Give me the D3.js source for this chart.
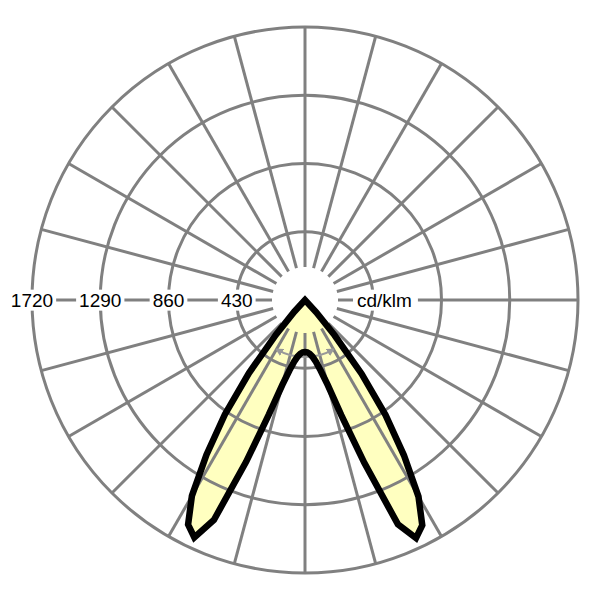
<!DOCTYPE html>
<html>
<head>
<meta charset="utf-8">
<script src="https://cdn.jsdelivr.net/npm/d3@7"></script>
<style>
  body { margin: 0; background: #fff; }
  .grid { fill: none; stroke: #808080; stroke-width: 3; }
  .lbl { font-family: "Liberation Sans", Arial, sans-serif; font-size: 19px; fill: #000; }
</style>
</head>
<body>
<svg id="chart" width="600" height="600"></svg>
<script>
// gamma angles (deg from nadir) and intensities for the two half planes
const gammaAngles = [0, 2.5, 5, 7.5, 10, 12.5, 15, 17.5, 20, 22.5, 25, 27.5, 30, 32.5, 35, 37.5, 40, 42.5, 45, 90, 180];
const intensityRight = [328, 330, 340, 360, 395, 455, 555, 760, 1090, 1530, 1655, 1600, 1430, 1160, 885, 585, 290, 105, 0, 0, 0];
const intensityLeft  = [328, 330, 340, 360, 395, 455, 555, 756, 1085, 1500, 1650, 1595, 1425, 1155, 880, 580, 285, 100, 0, 0, 0];
const ringValues = [430, 860, 1290, 1720];
const ringLabels = ["1720", "1290", "860", "430"];
const spokeAngles = d3.range(0, 360, 15);
const unitLabel = "cd/klm";
const beamAngle = [-30, 30];

const cx = 305, cy = 300;
const svg = d3.select("#chart");
const g = svg.append("g").attr("transform", `translate(${cx},${cy})`);

let r = d3.scaleLinear().domain([0, 1720]).range([0, 273]);
const innerGap = 33;

// build closed outline: left half plane first (180 -> 0), then right (0 -> 180)
let pts = [];
for (let i = gammaAngles.length - 1; i >= 0; i--) {
    pts.push([Math.PI + gammaAngles[i] * Math.PI / 180, r(intensityLeft[i])]);
}
for (let i = 1; i < gammaAngles.length; i++) {
    pts.push([Math.PI - gammaAngles[i] * Math.PI / 180, r(intensityRight[i])]);
}
let radial = d3.lineRadial().curve(d3.curveLinearClosed);

// light fill underneath the grid
g.append("path")
    .attr("d", radial(pts))
    .attr("fill", "#ffffc0")
    .attr("stroke", "none");

// rings
g.selectAll("circle.ring")
    .data(ringValues)
    .enter()
    .append("circle")
    .attr("class", "grid ring")
    .attr("r", d => r(d));

// spokes, all leave a gap around the centre
g.selectAll("line.spoke")
    .data(spokeAngles)
    .enter()
    .append("line")
    .attr("class", "grid spoke")
    .attr("x1", d => innerGap * Math.cos(d * Math.PI / 180))
    .attr("y1", d => innerGap * Math.sin(d * Math.PI / 180))
    .attr("x2", d => r(1720) * Math.cos(d * Math.PI / 180))
    .attr("y2", d => r(1720) * Math.sin(d * Math.PI / 180));

// beam angle arc
let arcR = 57;
let arcPath = d3.path();
arcPath.arc(0, 0, arcR, Math.PI / 2 - beamAngle[1] * Math.PI / 180, Math.PI / 2 - beamAngle[0] * Math.PI / 180);
svg.append("defs").append("marker")
    .attr("id", "arrow")
    .attr("viewBox", "0 0 10 10")
    .attr("refX", 8).attr("refY", 5)
    .attr("markerWidth", 4).attr("markerHeight", 4)
    .attr("orient", "auto-start-reverse")
    .append("path")
    .attr("d", "M0,0L10,5L0,10z")
    .attr("fill", "#999");
g.append("path")
    .attr("d", arcPath.toString())
    .attr("fill", "none")
    .attr("stroke", "#999")
    .attr("stroke-width", 2)
    .attr("marker-start", "url(#arrow)")
    .attr("marker-end", "url(#arrow)");

// outline
g.append("path")
    .attr("d", radial(pts))
    .attr("fill", "none")
    .attr("stroke", "#000")
    .attr("stroke-width", 6.5)
    .attr("stroke-linejoin", "miter");

// value labels on the left axis with white boxes
let labels = g.selectAll("g.lab")
    .data(ringLabels)
    .enter()
    .append("g")
    .attr("class", "lab")
    .attr("transform", d => `translate(${-r(+d)},0)`);
labels.append("rect").attr("fill", "#fff");
labels.append("text")
    .attr("class", "lbl")
    .attr("text-anchor", "middle")
    .attr("dy", "0.35em")
    .text(d => d);
labels.each(function () {
    let bb = d3.select(this).select("text").node().getBBox();
    d3.select(this).select("rect")
        .attr("x", bb.x - 3).attr("y", bb.y)
        .attr("width", bb.width + 6).attr("height", bb.height);
});

// unit label on the right
let unit = g.append("g").attr("transform", `translate(${innerGap + 19},0)`);
unit.append("rect").attr("fill", "#fff");
unit.append("text")
    .attr("class", "lbl")
    .attr("dy", "0.35em")
    .text(unitLabel);
let ub = unit.select("text").node().getBBox();
unit.select("rect")
    .attr("x", ub.x - 4).attr("y", ub.y)
    .attr("width", ub.width + 10).attr("height", ub.height);
</script>
</body>
</html>
